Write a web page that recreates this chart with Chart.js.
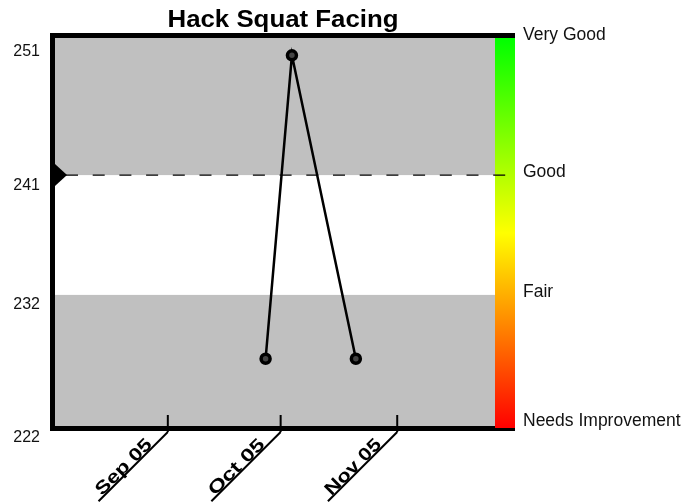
<!DOCTYPE html>
<html>
<head>
<meta charset="utf-8">
<script src="https://cdn.jsdelivr.net/npm/chart.js@4.4.1/dist/chart.umd.min.js"></script>
<style>
  body { margin: 0; background: #fff; }
  #wrap { width: 683px; height: 504px; position: relative; }
</style>
</head>
<body>
<div id="wrap"><canvas id="squat-chart"></canvas></div>
<script>
// sessions and the weight lifted on each one
const sessionDates = ['2005-10-01', '2005-10-08', '2005-10-25'];
const weights = [227.2, 250.0, 227.2];

// month ticks on the bottom axis
const monthDates = ['2005-09-05', '2005-10-05', '2005-11-05'];
const monthLabels = ['Sep 05', 'Oct 05', 'Nov 05'];
const xStart = '2005-08-06';
const xEnd = '2005-12-01';

// y axis
const yTicks = [222, 232, 241, 251];
const yMin = 222;
const yMax = 251.3;

// rating bands: lower bound of each band and its name
const bandStarts = [222, 232, 241, 251.3];
const bandNames = ['Needs Improvement', 'Fair', 'Good', 'Very Good'];
const goalValue = 241;

const chartTitle = 'Hack Squat Facing';
const FONT = "'Liberation Sans', Arial, sans-serif";

function toDay(s) {
  return Date.UTC(+s.slice(0, 4), +s.slice(5, 7) - 1, +s.slice(8, 10)) / 86400000;
}

// draws text squeezed/stretched to a given width
function fitText(ctx, text, width) {
  const w = ctx.measureText(text).width;
  ctx.scale(width / w, 1);
  ctx.fillText(text, 0, 0);
}

const ratingPlugin = {
  id: 'rating',
  beforeDatasetsDraw(chart) {
    const { ctx, chartArea: a, scales: { x, y } } = chart;
    const yGood = y.getPixelForValue(goalValue);
    const yFair = y.getPixelForValue(bandStarts[1]);
    ctx.save();

    // grey background with a white band between fair and good
    ctx.fillStyle = '#c0c0c0';
    ctx.fillRect(a.left, a.top, a.width, a.height);
    ctx.fillStyle = '#ffffff';
    ctx.fillRect(a.left, yGood, a.width, yFair - yGood);

    // frame
    ctx.strokeStyle = '#000';
    ctx.lineWidth = 5;
    ctx.lineJoin = 'miter';
    ctx.beginPath();
    ctx.moveTo(a.right + 20, a.top - 2.5);
    ctx.lineTo(a.left - 2.5, a.top - 2.5);
    ctx.lineTo(a.left - 2.5, a.bottom + 0.5);
    ctx.lineTo(a.right + 20, a.bottom + 0.5);
    ctx.stroke();

    // colour bar on the right
    const grad = ctx.createLinearGradient(0, a.top, 0, a.bottom);
    grad.addColorStop(0, '#00ff00');
    grad.addColorStop(0.5, '#ffff00');
    grad.addColorStop(1, '#ff0000');
    ctx.fillStyle = grad;
    ctx.fillRect(a.right, a.top, 20, a.bottom - a.top);

    // dashed goal line
    ctx.lineWidth = 1.3;
    ctx.setLineDash([12, 14.7]);
    ctx.beginPath();
    ctx.moveTo(a.left + 11, yGood);
    ctx.lineTo(a.right + 11, yGood);
    ctx.stroke();
    ctx.setLineDash([]);

    // goal marker
    ctx.fillStyle = '#000';
    ctx.beginPath();
    ctx.moveTo(a.left, yGood - 11);
    ctx.lineTo(a.left + 12, yGood);
    ctx.lineTo(a.left, yGood + 11);
    ctx.closePath();
    ctx.fill();

    // band names
    ctx.font = '17.5px ' + FONT;
    ctx.fillStyle = '#111';
    ctx.textAlign = 'left';
    ctx.textBaseline = 'alphabetic';
    bandNames.forEach((name, i) => {
      const py = Math.min(y.getPixelForValue(bandStarts[i]) + 2, a.bottom - 2);
      ctx.fillText(name, a.right + 28, py);
    });

    // month ticks and slanted, underlined labels
    ctx.lineWidth = 2;
    ctx.font = 'bold 18px ' + FONT;
    ctx.fillStyle = '#000';
    monthDates.forEach((d, i) => {
      const px = x.getPixelForValue(toDay(d));
      ctx.beginPath();
      ctx.moveTo(px, a.bottom - 13);
      ctx.lineTo(px, a.bottom + 4);
      ctx.stroke();
      ctx.save();
      ctx.translate(px, a.bottom + 4);
      ctx.rotate(-Math.PI / 4);
      ctx.beginPath();
      ctx.moveTo(0, 0);
      ctx.lineTo(-98, 0);
      ctx.stroke();
      ctx.translate(-20, -1);
      ctx.textAlign = 'right';
      fitText(ctx, monthLabels[i], 72);
      ctx.restore();
    });

    // title
    ctx.font = 'bold 23px ' + FONT;
    ctx.textAlign = 'center';
    ctx.translate(283, 27);
    fitText(ctx, chartTitle, 231);

    ctx.restore();
  }
};

new Chart(document.getElementById('squat-chart'), {
  type: 'line',
  data: {
    datasets: [{
      data: sessionDates.map((d, i) => ({ x: toDay(d), y: weights[i] })),
      borderColor: '#000',
      borderWidth: 2.5,
      tension: 0,
      pointRadius: 4.5,
      pointBorderWidth: 3.5,
      pointBorderColor: '#000',
      pointBackgroundColor: '#444'
    }]
  },
  options: {
    responsive: true,
    maintainAspectRatio: false,
    animation: false,
    layout: { padding: { left: 0, top: 38, right: 188, bottom: 76 } },
    plugins: {
      legend: { display: false },
      tooltip: { enabled: false },
      title: { display: false }
    },
    scales: {
      x: {
        type: 'linear',
        display: false,
        min: toDay(xStart),
        max: toDay(xEnd)
      },
      y: {
        min: yMin,
        max: yMax,
        grid: { display: false, drawTicks: false },
        border: { display: false },
        afterFit: s => { s.width = 55; },
        afterBuildTicks: s => { s.ticks = yTicks.map(v => ({ value: v })); },
        ticks: {
          padding: 15,
          labelOffset: 10,
          color: '#111',
          font: { family: FONT, size: 16 }
        }
      }
    }
  },
  plugins: [ratingPlugin]
});
</script>
</body>
</html>
